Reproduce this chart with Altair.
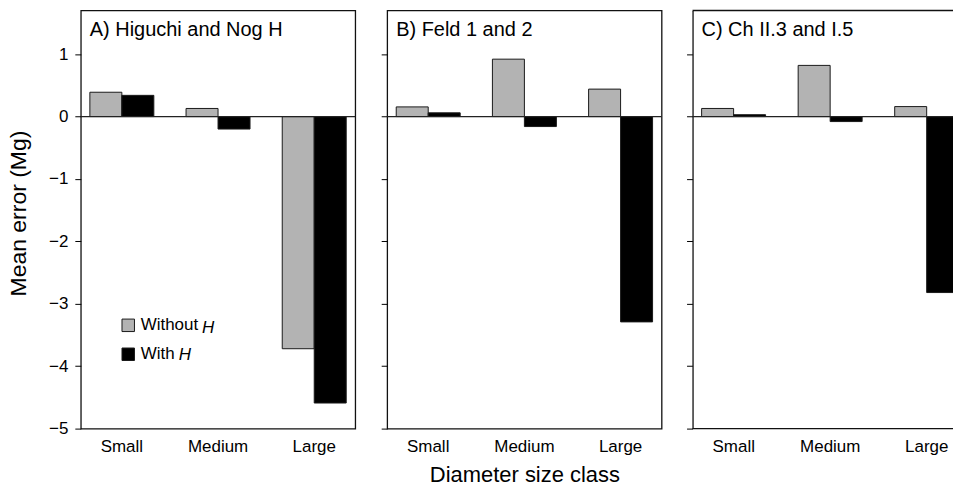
import altair as alt
import pandas as pd

size_classes = ["Small", "Medium", "Large"]
series_names = ["Without H", "With H"]
panel_titles = ["A) Higuchi and Nog H", "B) Feld 1 and 2", "C) Ch II.3 and I.5"]

without_h_a = [0.39, 0.13, -3.72]
with_h_a = [0.34, -0.20, -4.59]
without_h_b = [0.155, 0.92, 0.44]
with_h_b = [0.06, -0.16, -3.29]
without_h_c = [0.13, 0.82, 0.16]
with_h_c = [0.03, -0.08, -2.82]

FONT = "Liberation Sans"
GRAY = "#b3b3b3"
EDGE = "#111111"
Y_TOP = 1.7
Y_BOTTOM = -5


def panel(title, wo, wi, first=False, middle=False, cut=False):
    df = pd.DataFrame({
        "size": size_classes * 2,
        "series": [series_names[0]] * 3 + [series_names[1]] * 3,
        "value": wo + wi,
    })
    legend = None
    if first:
        legend = alt.Legend(
            orient="none", legendX=39, legendY=307, title=None,
            symbolType="square", symbolSize=156, symbolStrokeColor="#1a1a1a",
            symbolStrokeWidth=1, symbolOpacity=1, labelFontSize=17, labelFont=FONT,
            labelColor="black", labelOffset=4, rowPadding=11, padding=0,
            labelExpr="datum.label == 'Without H' ? 'Without' : 'With'",
        )
    if cut:
        xscale = alt.Scale(paddingInner=0.335, paddingOuter=0.094, range=[0, 276])
        xaxis = None
    else:
        xscale = alt.Scale(paddingInner=0.335, paddingOuter=0.094)
        xaxis = alt.Axis(
            title="Diameter size class" if middle else None,
            labelAngle=0, ticks=False, domain=False, labelPadding=10,
            labelFontSize=17, titleFontSize=22, titleFontWeight="normal",
            titlePadding=10, labelColor="black", titleColor="black",
            labelFont=FONT, titleFont=FONT,
        )
    yaxis_opts = dict(
        values=[-5, -4, -3, -2, -1, 0, 1], format="d",
        labels=first, grid=False, domain=cut, domainColor=EDGE,
        domainWidth=1.3, ticks=True,
        tickSize=6, tickColor="black", tickWidth=1,
        labelPadding=7, labelFontSize=17, labelFlush=False,
        labelColor="black", labelFont=FONT,
    )
    if first:
        yaxis = alt.Axis(
            title="Mean error (Mg)", titleFontSize=23, titleFontWeight="normal",
            titleColor="black", titleFont=FONT, titleAngle=270,
            titleAlign="center", titleBaseline="bottom",
            titleX=-50, titleY=203, **yaxis_opts,
        )
    else:
        yaxis = alt.Axis(title=None, **yaxis_opts)
    bars = alt.Chart(df).mark_bar(
        stroke="#1a1a1a", strokeWidth=1, opacity=1, clip=cut
    ).encode(
        x=alt.X("size:N", sort=size_classes, scale=xscale, axis=xaxis),
        xOffset=alt.XOffset("series:N", sort=series_names,
                            scale=alt.Scale(paddingInner=0, paddingOuter=0)),
        y=alt.Y(
            "value:Q",
            scale=alt.Scale(domain=[Y_BOTTOM, Y_TOP], nice=False, zero=False),
            axis=yaxis,
        ),
        color=alt.Color(
            "series:N", sort=series_names,
            scale=alt.Scale(domain=series_names, range=[GRAY, "#000000"]),
            legend=legend,
        ),
    )
    zero = alt.Chart(pd.DataFrame({"v": [0]})).mark_rule(
        color="#222222", strokeWidth=1.2
    ).encode(y="v:Q")
    label = alt.Chart(pd.DataFrame({"t": [title]})).mark_text(
        align="left", baseline="alphabetic", fontSize=20, font=FONT,
        color="black", dx=9, dy=26,
    ).encode(x=alt.value(0), y=alt.value(0), text="t:N")
    layers = [bars, zero, label]
    if cut:
        frame = alt.Chart(pd.DataFrame({"v": [Y_TOP, Y_BOTTOM]})).mark_rule(
            color=EDGE, strokeWidth=1.3
        ).encode(y="v:Q")
        class_labels = alt.Chart(pd.DataFrame({"size": size_classes})).mark_text(
            baseline="top", fontSize=17, font=FONT, color="black", dy=10,
        ).encode(
            x=alt.X("size:N", sort=size_classes, scale=xscale, axis=None),
            y=alt.value(419), text="size:N",
        )
        layers += [frame, class_labels]
    if first:
        h1 = alt.Chart(pd.DataFrame({"t": ["H"]})).mark_text(
            align="left", baseline="alphabetic", fontSize=17, font=FONT,
            fontStyle="italic", color="black",
        ).encode(x=alt.value(121.5), y=alt.value(322.7), text="t:N")
        h2 = alt.Chart(pd.DataFrame({"t": ["H"]})).mark_text(
            align="left", baseline="alphabetic", fontSize=17, font=FONT,
            fontStyle="italic", color="black",
        ).encode(x=alt.value(98.0), y=alt.value(350.7), text="t:N")
        layers += [h1, h2]
    if cut:
        return alt.layer(*layers).properties(
            width=261, height=419,
            view=alt.ViewBackground(stroke="transparent", strokeWidth=0),
        )
    return alt.layer(*layers).properties(
        width=275, height=419,
        view=alt.ViewBackground(stroke=EDGE, strokeWidth=1.3),
    )


chart = alt.hconcat(
    panel(panel_titles[0], without_h_a, with_h_a, first=True),
    panel(panel_titles[1], without_h_b, with_h_b, middle=True),
    panel(panel_titles[2], without_h_c, with_h_c, cut=True),
    spacing=22,
).resolve_scale(color="independent").resolve_legend(color="independent").configure_view(
    stroke="transparent"
).properties(
    padding={"top": 9, "left": 7, "right": 0, "bottom": -5},
    background="white",
)

chart.save("out.html", embed_options={"renderer": "svg", "actions": False})
